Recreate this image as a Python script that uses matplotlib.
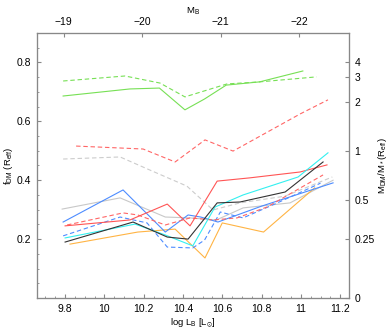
import matplotlib
matplotlib.use("Agg")
import matplotlib.pyplot as plt
from matplotlib.ticker import MultipleLocator, FixedLocator

plt.rcParams["font.family"] = ["Liberation Sans", "DejaVu Sans"]
plt.rcParams["mathtext.fontset"] = "custom"
plt.rcParams["mathtext.rm"] = "Liberation Sans"
plt.rcParams["mathtext.it"] = "Liberation Sans:italic"
plt.rcParams["mathtext.bf"] = "Liberation Sans:bold"
plt.rcParams["mathtext.fallback"] = "stixsans"

# ---- data (log L_B, f_DM) ----
green_solid_x = [9.79, 10.13, 10.28, 10.41, 10.51, 10.62, 10.79, 11.01]
green_solid_y = [0.686, 0.710, 0.713, 0.639, 0.676, 0.723, 0.734, 0.771]
green_dash_x = [9.79, 10.105, 10.283, 10.41, 10.624, 10.79, 11.08]
green_dash_y = [0.737, 0.754, 0.730, 0.683, 0.727, 0.734, 0.751]
red_dash_hi_x = [9.856, 10.197, 10.36, 10.512, 10.655, 10.996, 11.138]
red_dash_hi_y = [0.516, 0.506, 0.462, 0.537, 0.499, 0.625, 0.673]
gray_dash_x = [9.79, 10.08, 10.23, 10.42, 10.553, 10.69, 10.92, 11.16]
gray_dash_y = [0.472, 0.479, 0.435, 0.380, 0.299, 0.323, 0.346, 0.411]
gray_solid_x = [9.785, 10.08, 10.31, 10.436, 10.57, 10.706, 10.945, 11.164]
gray_solid_y = [0.302, 0.340, 0.275, 0.272, 0.265, 0.306, 0.323, 0.400]
blue_solid_x = [9.79, 10.095, 10.31, 10.426, 10.49, 10.578, 10.80, 11.164]
blue_solid_y = [0.258, 0.367, 0.224, 0.282, 0.275, 0.258, 0.312, 0.391]
red_solid_x = [9.80, 10.13, 10.32, 10.436, 10.574, 10.74, 10.996, 11.133]
red_solid_y = [0.245, 0.265, 0.319, 0.245, 0.397, 0.408, 0.428, 0.452]
red_dash_lo_x = [9.81, 10.095, 10.17, 10.31, 10.436, 10.553, 10.675, 10.828, 11.113]
red_dash_lo_y = [0.248, 0.289, 0.282, 0.248, 0.272, 0.265, 0.272, 0.309, 0.418]
blue_dash_x = [9.79, 10.08, 10.217, 10.32, 10.45, 10.51, 10.59, 10.706, 10.88, 11.10]
blue_dash_y = [0.211, 0.275, 0.255, 0.173, 0.170, 0.197, 0.292, 0.272, 0.323, 0.390]
black_x = [9.80, 10.146, 10.32, 10.426, 10.574, 10.69, 10.92, 11.113]
black_y = [0.190, 0.258, 0.207, 0.200, 0.323, 0.326, 0.360, 0.462]
cyan_x = [9.80, 10.156, 10.31, 10.45, 10.563, 10.706, 10.986, 11.138]
cyan_y = [0.204, 0.251, 0.214, 0.177, 0.309, 0.350, 0.411, 0.493]
orange_x = [9.825, 10.17, 10.36, 10.512, 10.60, 10.81, 11.07]
orange_y = [0.183, 0.224, 0.234, 0.136, 0.255, 0.224, 0.374]

x_ticks = [9.8, 10.0, 10.2, 10.4, 10.6, 10.8, 11.0, 11.2]
x_tick_labels = ["9.8", "10", "10.2", "10.4", "10.6", "10.8", "11", "11.2"]
y_ticks = [0.2, 0.4, 0.6, 0.8]
top_ticks_MB = [-19, -20, -21, -22]
right_ratio_ticks = [0, 0.25, 0.5, 1, 2, 3, 4]
right_ratio_labels = ["0", "0.25", "0.5", "1", "2", "3", "4"]
M_sun_B = 5.48

fig = plt.figure(figsize=(3.9, 3.32), dpi=100)
ax = fig.add_axes([37/390, 1-298/332, (349-37)/390, (298-33)/332])

lw = 0.8
series = [
    (gray_dash_x, gray_dash_y, "#cccccc", "--"),
    (gray_solid_x, gray_solid_y, "#c8c8c8", "-"),
    (green_solid_x, green_solid_y, "#77e055", "-"),
    (green_dash_x, green_dash_y, "#77e055", "--"),
    (red_dash_hi_x, red_dash_hi_y, "#ff6666", "--"),
    (orange_x, orange_y, "#ffb444", "-"),
    (blue_solid_x, blue_solid_y, "#4d8cff", "-"),
    (blue_dash_x, blue_dash_y, "#4d8cff", "--"),
    (red_dash_lo_x, red_dash_lo_y, "#ff6666", "--"),
    (red_solid_x, red_solid_y, "#ff5555", "-"),
    (cyan_x, cyan_y, "#33f0f0", "-"),
    (black_x, black_y, "#333333", "-"),
]
for xs, ys, c, ls in series:
    if ls == "--":
        ax.plot(xs, ys, color=c, ls=ls, lw=lw, dashes=(4, 2.5))
    else:
        ax.plot(xs, ys, color=c, ls=ls, lw=lw)

ax.set_xlim(9.657, 11.245)
ax.set_ylim(0, 0.9)
ax.set_xticks(x_ticks)
ax.set_xticklabels(x_tick_labels)
ax.xaxis.set_minor_locator(MultipleLocator(0.05))
ax.set_yticks(y_ticks)
ax.yaxis.set_minor_locator(MultipleLocator(0.05))

fs = 7.5
lfs = 6.8
spc = "#888888"
for s in ax.spines.values():
    s.set_color(spc)
    s.set_linewidth(0.8)
ax.tick_params(which="both", direction="in", colors=spc, labelcolor="black",
               labelsize=fs, right=False, top=False)
ax.tick_params(which="major", length=3, pad=4)
ax.tick_params(which="minor", length=1.5)
ax.set_xlabel(r"log L$_\mathrm{B}$ [L$_{\odot}$]", fontsize=lfs)
ax.xaxis.set_label_coords(0.5, -0.072)
ax.set_ylabel(r"f$_\mathrm{DM}$ (R$_\mathrm{eff}$)", fontsize=lfs)
ax.yaxis.set_label_coords(-0.072, 0.5)

# right axis
axr = ax.twinx()
axr.set_ylim(ax.get_ylim())
axr.yaxis.set_major_locator(FixedLocator([r/(1+r) for r in right_ratio_ticks]))
axr.set_yticklabels(right_ratio_labels)
axr.tick_params(direction="in", colors=spc, labelcolor="black", labelsize=fs, length=3, pad=4)
axr.set_ylabel(r"M$_\mathrm{DM}$/M$_*$(R$_\mathrm{eff}$)", fontsize=lfs, rotation=90)
axr.yaxis.set_label_coords(1.088, 0.5)
for s in axr.spines.values():
    s.set_color(spc)
    s.set_linewidth(0.8)

# top axis
axt = ax.twiny()
axt.set_xlim(ax.get_xlim())
axt.xaxis.set_major_locator(FixedLocator([(M_sun_B - m)/2.5 for m in top_ticks_MB]))
axt.set_xticklabels([f"\u2212{abs(m)}" for m in top_ticks_MB])
axt.tick_params(direction="in", colors=spc, labelcolor="black", labelsize=fs, length=3, pad=4)
axt.set_xlabel(r"M$_\mathrm{B}$", fontsize=lfs)
axt.xaxis.set_label_coords(0.5, 1.075)
for s in axt.spines.values():
    s.set_color(spc)
    s.set_linewidth(0.8)

fig.savefig("out.png", dpi=100)
